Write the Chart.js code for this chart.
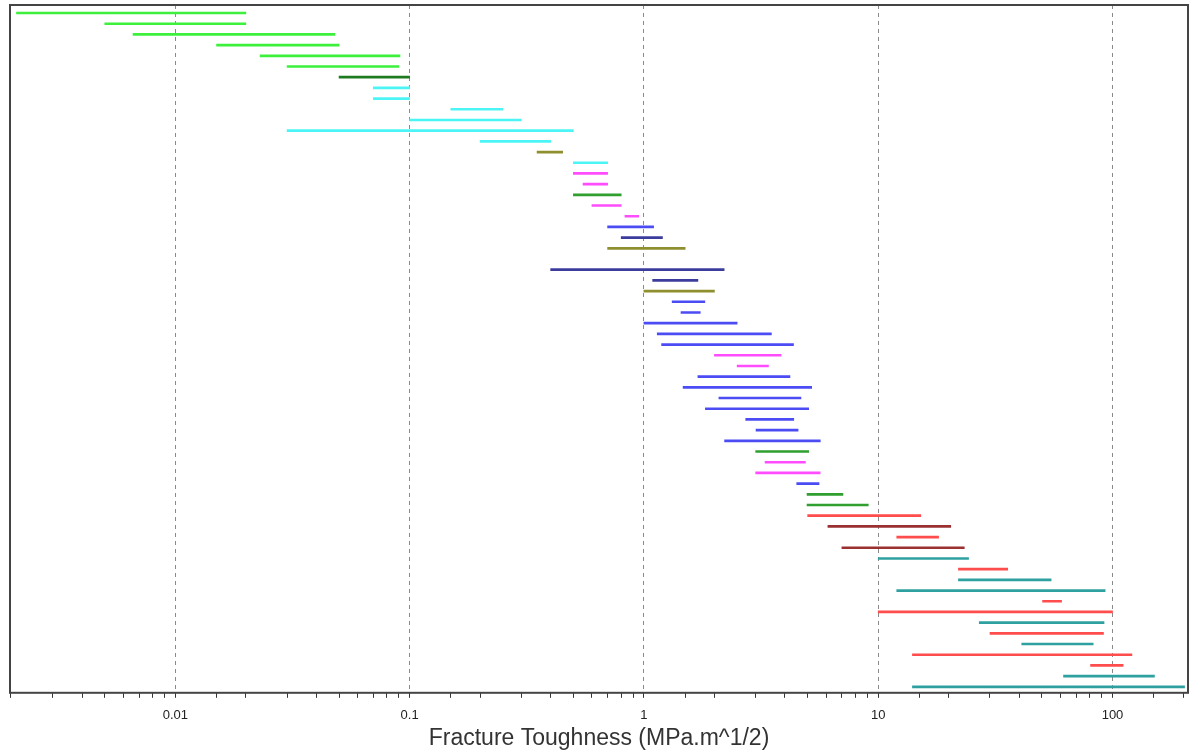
<!DOCTYPE html>
<html>
<head>
<meta charset="utf-8">
<script src="https://cdn.jsdelivr.net/npm/chart.js@4.4.1/dist/chart.umd.min.js"></script>
<style>
  html, body { margin: 0; padding: 0; background: #fff; }
  #wrap { width: 1200px; height: 755px; }
</style>
</head>
<body>
<div id="wrap"><canvas id="toughnessChart"></canvas></div>
<script>
// one entry per row, top to bottom (row 23 is empty)
const rowGroups = [
  'G1','G1','G1','G1','G1','G1','G2','G3','G3','G3',
  'G3','G3','G3','G4','G3','G5','G5','G6','G5','G5',
  'G7','G8','G4', null,'G8','G8','G4','G7','G7','G7',
  'G7','G7','G5','G5','G7','G7','G7','G7','G7','G7',
  'G7','G6','G5','G5','G7','G6','G6','G9','G10','G9',
  'G10','G11','G9','G11','G11','G9','G9','G11','G9','G11',
  'G9','G9','G11','G11'
]
const lowValues = [
  0.0021, 0.005, 0.0066, 0.015, 0.023, 0.030, 0.050, 0.070, 0.070, 0.150,
  0.100, 0.030, 0.200, 0.35, 0.50, 0.50, 0.55, 0.50, 0.60, 0.83,
  0.70, 0.80, 0.70, null, 0.40, 1.09, 1.00, 1.32, 1.44, 1.00,
  1.14, 1.19, 2.00, 2.50, 1.70, 1.47, 2.09, 1.83, 2.72, 3.01,
  2.21, 3.00, 3.29, 3.00, 4.49, 4.97, 4.97, 5.0, 6.1, 12.0,
  7.0, 10.0, 22.0, 22.0, 12.0, 50.3, 10.0, 27.0, 30.0, 41.0,
  14.0, 80.6, 61.8, 14.0
]
const highValues = [
  0.020, 0.020, 0.048, 0.050, 0.091, 0.090, 0.100, 0.100, 0.100, 0.250,
  0.300, 0.500, 0.400, 0.45, 0.70, 0.70, 0.70, 0.80, 0.80, 0.95,
  1.10, 1.20, 1.50, null, 2.20, 1.70, 2.00, 1.82, 1.74, 2.50,
  3.50, 4.35, 3.85, 3.40, 4.20, 5.20, 4.68, 5.05, 4.36, 4.55,
  5.66, 5.05, 4.89, 5.65, 5.59, 7.07, 9.07, 15.2, 20.4, 18.1,
  23.3, 24.3, 35.7, 54.7, 93.0, 60.6, 100.0, 92.0, 91.5, 82.7,
  121.0, 111.0, 151.0, 203.0
]
const decadeTicks = [0.01, 0.1, 1, 10, 100]
const axisTitle = 'Fracture Toughness (MPa.m^1/2)'

const groupColors = {
  G1: '#3cf03c', G2: '#1e7a1e', G3: '#4cf5f5', G4: '#8f8f2f', G5: '#ff4cff',
  G6: '#2f9f2f', G7: '#4c4cf5', G8: '#3c3c9c', G9: '#ff4c4c', G10: '#9a3030',
  G11: '#2fa0a0'
}

const isDecade = v => decadeTicks.some(d => Math.abs(Math.log10(v) - Math.log10(d)) < 1e-6)

const frame = {
  id: 'frame',
  afterDraw(chart) {
    const {ctx, chartArea: a} = chart
    ctx.save()
    ctx.strokeStyle = '#444'
    ctx.lineWidth = 2
    ctx.strokeRect(a.left, a.top, a.right - a.left, a.bottom - a.top)
    ctx.restore()
  }
}

// skip the empty row, keep row index as the y value
const rowIdx = lowValues.map((lo, i) => i).filter(i => lowValues[i] != null)
const rows = rowIdx.map(i => ({x: [lowValues[i], highValues[i]], y: i}))
const colors = rowIdx.map(i => groupColors[rowGroups[i]])

new Chart(document.getElementById('toughnessChart'), {
  type: 'bar',
  data: {
    datasets: [{
      data: rows,
      backgroundColor: colors,
      barThickness: 2,
      borderWidth: 0
    }]
  },
  options: {
    indexAxis: 'y',
    responsive: true,
    maintainAspectRatio: false,
    animation: false,
    layout: {padding: {left: 4, top: 5, right: 12, bottom: 0}},
    plugins: {legend: {display: false}, tooltip: {enabled: false}},
    scales: {
      y: {
        type: 'linear',
        reverse: true,
        offset: false,
        grace: 0,
        min: -0.75,
        max: 63.56,
        display: false
      },
      x: {
        type: 'logarithmic',
        min: 0.00197,
        max: 210,
        border: {display: false, dash: [4, 4]},
        grid: {
          color: c => isDecade(c.tick.value) ? '#8a8a8a' : 'transparent',
          tickColor: c => c.tick.value <= 201 ? '#333' : 'transparent',
          tickLength: 5,
          lineWidth: 1
        },
        ticks: {
          autoSkip: false,
          maxRotation: 0,
          padding: 10,
          color: '#222',
          font: {family: "'Liberation Sans', Arial, sans-serif", size: 13},
          callback: v => isDecade(v) ? String(Number(v.toPrecision(1))) : ''
        },
        title: {
          display: true,
          text: axisTitle,
          color: '#333',
          padding: {top: -9, bottom: 3},
          font: {family: "'Liberation Sans', Arial, sans-serif", size: 23}
        }
      }
    }
  },
  plugins: [frame]
})
</script>
</body>
</html>
